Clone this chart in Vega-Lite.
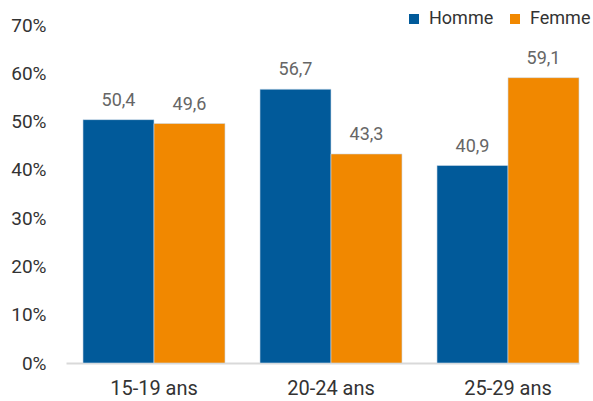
{
  "$schema": "https://vega.github.io/schema/vega-lite/v6.json",
  "width": 513,
  "height": 338,
  "autosize": {"type": "none"},
  "padding": {"left": 66, "top": 25, "right": 14, "bottom": 38},
  "background": "white",
  "config": {
    "view": {"stroke": null},
    "font": "Roboto",
    "locale": {"number": {"decimal": ",", "thousands": " ", "grouping": [3], "currency": ["", " €"]}}
  },
  "data": {
    "values": [
      {"age": "15-19 ans", "sexe": "Homme", "value": 50.4},
      {"age": "15-19 ans", "sexe": "Femme", "value": 49.6},
      {"age": "20-24 ans", "sexe": "Homme", "value": 56.7},
      {"age": "20-24 ans", "sexe": "Femme", "value": 43.3},
      {"age": "25-29 ans", "sexe": "Homme", "value": 40.9},
      {"age": "25-29 ans", "sexe": "Femme", "value": 59.1}
    ]
  },
  "encoding": {
    "x": {
      "field": "age", "type": "nominal", "sort": null,
      "scale": {"paddingInner": 0.1977, "paddingOuter": 0.048, "align": 1},
      "axis": {"title": null, "labelAngle": 0, "labelFontSize": 20, "labelColor": "#333333", "labelPadding": 15, "ticks": false, "domainColor": "#d9d9d9", "domainWidth": 2}
    },
    "xOffset": {"field": "sexe", "type": "nominal", "sort": ["Homme", "Femme"], "scale": {"paddingInner": 0, "paddingOuter": 0}},
    "y": {
      "field": "value", "type": "quantitative",
      "scale": {"domain": [0, 70]},
      "axis": {"title": null, "values": [0, 10, 20, 30, 40, 50, 60, 70], "labelExpr": "datum.value + '%'", "labelFontSize": 19, "labelColor": "#333333", "labelPadding": 20, "ticks": false, "domain": false, "grid": false}
    }
  },
  "layer": [
    {
      "mark": {"type": "bar", "stroke": "#cfdcea", "strokeWidth": 0.6},
      "encoding": {
        "color": {
          "field": "sexe", "type": "nominal",
          "scale": {"domain": ["Homme", "Femme"], "range": ["#015a9a", "#f18800"]},
          "legend": {"title": null, "orient": "none", "legendX": 339, "legendY": -15, "direction": "horizontal", "symbolType": "square", "symbolSize": 100, "symbolStrokeWidth": 0, "labelFontSize": 18, "labelColor": "#333333", "labelOffset": 6, "columnPadding": 12}
        }
      }
    },
    {
      "mark": {"type": "text", "baseline": "bottom", "dy": -10, "fontSize": 18, "color": "#666666"},
      "encoding": {"text": {"field": "value", "type": "quantitative", "format": ".1f"}}
    }
  ]
}
